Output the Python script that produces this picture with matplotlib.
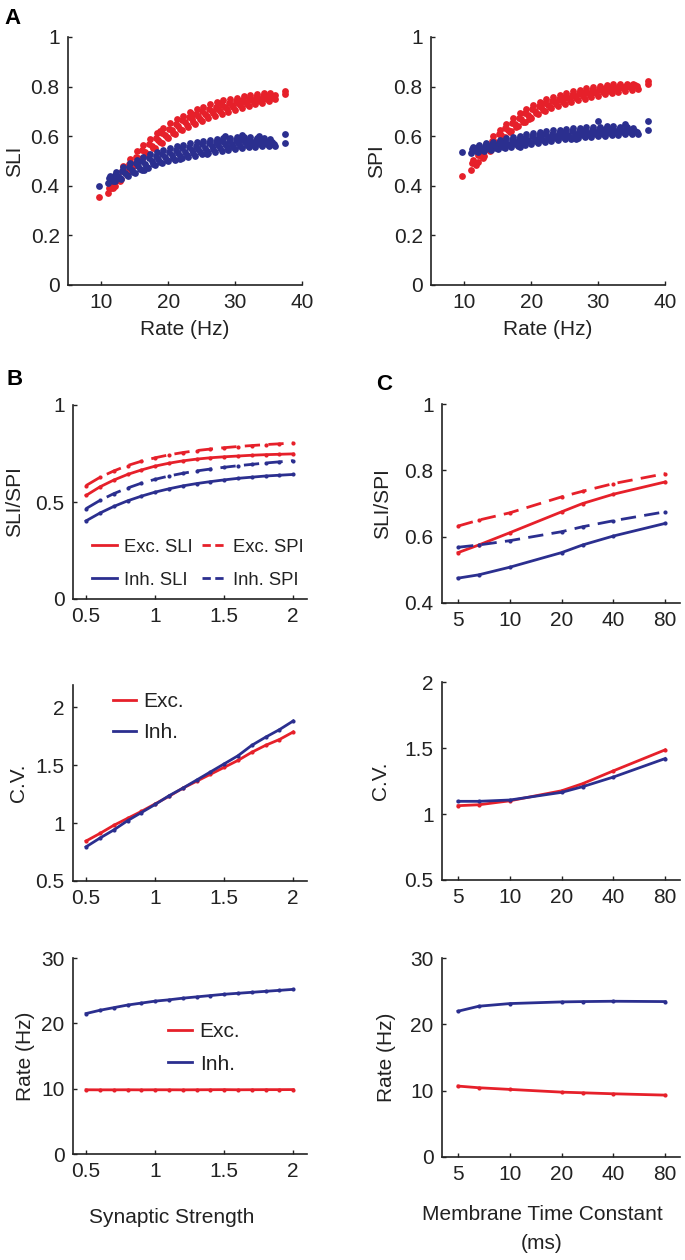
import matplotlib
matplotlib.use('Agg')
import matplotlib.pyplot as plt
from matplotlib.lines import Line2D
from matplotlib.ticker import FixedLocator, FixedFormatter, NullLocator

plt.rcParams['font.family'] = ['Liberation Sans', 'DejaVu Sans']

RED = '#E6202A'
BLUE = '#2B2F8F'

# ---------------- Panel A scatter data ----------------
x_low = [11, 12, 13, 14, 15, 16, 17, 18, 19, 20, 21, 22, 23, 24, 25, 26, 27, 28, 29, 30,
         31, 32, 33, 34, 35, 36]
x_mid = [11.5, 12.5, 13.5, 14.5, 15.5, 16.5, 17.5, 18.5, 19.5, 20.5, 21.5, 22.5, 23.5,
         24.5, 25.5, 26.5, 27.5, 28.5, 29.5, 30.5, 31.5, 32.5, 33.5, 34.5, 35.5]
x_high = [11.25, 12.25, 13.25, 14.25, 15.25, 16.25, 17.25, 18.25, 19.25, 20.25, 21.25,
          22.25, 23.25, 24.25, 25.25, 26.25, 27.25, 28.25, 29.25, 30.25, 31.25, 32.25,
          33.25, 34.25, 35.25]
x_lowmid = [11.75, 12.75, 13.75, 14.75, 15.75, 16.75, 17.75, 18.75, 19.75, 20.75, 21.75,
            22.75, 23.75, 24.75, 25.75, 26.75, 27.75, 28.75, 29.75, 30.75, 31.75, 32.75,
            33.75, 34.75, 35.75]
x_midhigh = [11.1, 12.1, 13.1, 14.1, 15.1, 16.1, 17.1, 18.1, 19.1, 20.1, 21.1, 22.1, 23.1,
             24.1, 25.1, 26.1, 27.1, 28.1, 29.1, 30.1, 31.1, 32.1, 33.1, 34.1, 35.1]

sli_exc_low = [0.372, 0.400, 0.428, 0.458, 0.482, 0.508, 0.530, 0.553, 0.574, 0.592, 0.610,
               0.624, 0.638, 0.650, 0.661, 0.672, 0.683, 0.690, 0.699, 0.706, 0.714, 0.720,
               0.728, 0.734, 0.742, 0.748]
sli_exc_lowmid = [0.390, 0.420, 0.450, 0.478, 0.503, 0.528, 0.552, 0.575, 0.596, 0.614,
                  0.631, 0.646, 0.659, 0.671, 0.682, 0.692, 0.702, 0.710, 0.717, 0.724,
                  0.731, 0.737, 0.743, 0.749, 0.755]
sli_exc_mid = [0.392, 0.425, 0.457, 0.486, 0.512, 0.537, 0.562, 0.586, 0.606, 0.624, 0.641,
               0.656, 0.669, 0.680, 0.691, 0.701, 0.710, 0.718, 0.725, 0.732, 0.739, 0.745,
               0.750, 0.755, 0.760]
sli_exc_midhigh = [0.390, 0.426, 0.458, 0.489, 0.517, 0.543, 0.568, 0.592, 0.613, 0.631,
                   0.648, 0.664, 0.677, 0.689, 0.700, 0.710, 0.719, 0.727, 0.734, 0.740,
                   0.746, 0.752, 0.757, 0.761, 0.765]
sli_exc_high = [0.405, 0.445, 0.478, 0.510, 0.540, 0.565, 0.590, 0.613, 0.633, 0.652, 0.668,
                0.683, 0.697, 0.708, 0.718, 0.728, 0.737, 0.744, 0.750, 0.756, 0.761, 0.766,
                0.770, 0.773, 0.776]
sli_exc_extra_x = [9.7, 37.5, 37.5, 35.9, 18.8, 23.6, 27.9]
sli_exc_extra_y = [0.355, 0.782, 0.772, 0.765, 0.622, 0.690, 0.735]

sli_inh_low = [0.412, 0.418, 0.428, 0.440, 0.452, 0.462, 0.472, 0.482, 0.490, 0.498, 0.505,
               0.511, 0.517, 0.522, 0.527, 0.532, 0.537, 0.541, 0.545, 0.548, 0.551, 0.555,
               0.557, 0.559, 0.560, 0.562]
sli_inh_lowmid = [0.421, 0.430, 0.442, 0.454, 0.466, 0.477, 0.487, 0.496, 0.505, 0.513,
                  0.520, 0.526, 0.532, 0.537, 0.542, 0.547, 0.551, 0.555, 0.558, 0.561,
                  0.564, 0.566, 0.568, 0.569, 0.568]
sli_inh_mid = [0.428, 0.438, 0.452, 0.465, 0.478, 0.489, 0.499, 0.508, 0.517, 0.525, 0.532,
               0.538, 0.544, 0.549, 0.554, 0.559, 0.563, 0.567, 0.570, 0.573, 0.575, 0.577,
               0.578, 0.578, 0.575]
sli_inh_midhigh = [0.432, 0.444, 0.460, 0.476, 0.490, 0.502, 0.512, 0.522, 0.530, 0.538,
                   0.545, 0.551, 0.557, 0.562, 0.567, 0.572, 0.576, 0.579, 0.582, 0.584,
                   0.585, 0.586, 0.586, 0.585, 0.582]
sli_inh_high = [0.440, 0.455, 0.475, 0.492, 0.506, 0.518, 0.528, 0.538, 0.546, 0.554, 0.560,
                0.566, 0.572, 0.577, 0.582, 0.586, 0.590, 0.592, 0.594, 0.596, 0.596, 0.595,
                0.594, 0.592, 0.590]
sli_inh_extra_x = [9.7, 37.5, 37.5, 31.0, 33.5, 28.5, 35.5, 16.4, 21.7, 25.8]
sli_inh_extra_y = [0.400, 0.610, 0.574, 0.606, 0.600, 0.602, 0.568, 0.462, 0.510, 0.528]

spi_exc_low = [0.465, 0.495, 0.522, 0.548, 0.574, 0.598, 0.620, 0.640, 0.658, 0.674, 0.689,
               0.701, 0.712, 0.722, 0.730, 0.738, 0.746, 0.752, 0.758, 0.763, 0.769, 0.774,
               0.779, 0.784, 0.788, 0.792]
spi_exc_lowmid = [0.482, 0.512, 0.540, 0.567, 0.592, 0.616, 0.638, 0.658, 0.676, 0.692,
                  0.706, 0.718, 0.728, 0.738, 0.746, 0.754, 0.762, 0.768, 0.774, 0.779,
                  0.784, 0.789, 0.794, 0.798, 0.801]
spi_exc_mid = [0.490, 0.522, 0.550, 0.578, 0.603, 0.627, 0.648, 0.668, 0.686, 0.702, 0.716,
               0.727, 0.737, 0.746, 0.754, 0.762, 0.769, 0.775, 0.780, 0.785, 0.790, 0.795,
               0.799, 0.802, 0.805]
spi_exc_midhigh = [0.490, 0.523, 0.553, 0.582, 0.608, 0.632, 0.654, 0.674, 0.692, 0.708,
                   0.721, 0.733, 0.743, 0.752, 0.760, 0.768, 0.775, 0.780, 0.785, 0.790,
                   0.794, 0.798, 0.801, 0.803, 0.805]
spi_exc_high = [0.505, 0.540, 0.570, 0.600, 0.626, 0.650, 0.672, 0.692, 0.709, 0.724, 0.737,
                0.748, 0.758, 0.766, 0.774, 0.781, 0.788, 0.793, 0.798, 0.802, 0.806, 0.809,
                0.811, 0.812, 0.812]
spi_exc_extra_x = [9.7, 37.5, 37.5, 19.6, 24.4]
spi_exc_extra_y = [0.440, 0.822, 0.812, 0.668, 0.760]

spi_inh_low = [0.532, 0.536, 0.540, 0.544, 0.548, 0.553, 0.557, 0.562, 0.566, 0.570, 0.574,
               0.578, 0.581, 0.584, 0.587, 0.590, 0.593, 0.595, 0.598, 0.600, 0.602, 0.604,
               0.606, 0.608, 0.610, 0.610]
spi_inh_lowmid = [0.540, 0.545, 0.549, 0.554, 0.558, 0.563, 0.568, 0.572, 0.577, 0.581,
                  0.585, 0.589, 0.592, 0.595, 0.598, 0.601, 0.604, 0.606, 0.608, 0.610,
                  0.612, 0.614, 0.616, 0.617, 0.617]
spi_inh_mid = [0.545, 0.550, 0.555, 0.560, 0.565, 0.570, 0.575, 0.580, 0.585, 0.589, 0.593,
               0.597, 0.600, 0.603, 0.606, 0.609, 0.612, 0.614, 0.616, 0.618, 0.620, 0.622,
               0.623, 0.624, 0.622]
spi_inh_midhigh = [0.548, 0.555, 0.561, 0.567, 0.573, 0.578, 0.584, 0.589, 0.594, 0.599,
                   0.603, 0.607, 0.610, 0.613, 0.616, 0.619, 0.622, 0.624, 0.626, 0.628,
                   0.629, 0.630, 0.630, 0.630, 0.628]
spi_inh_high = [0.556, 0.564, 0.571, 0.578, 0.585, 0.591, 0.597, 0.602, 0.607, 0.612, 0.616,
                0.620, 0.623, 0.626, 0.629, 0.632, 0.634, 0.636, 0.638, 0.639, 0.640, 0.640,
                0.639, 0.637, 0.634]
spi_inh_extra_x = [9.7, 37.5, 37.5, 30.0, 34.0, 18.3, 26.7]
spi_inh_extra_y = [0.535, 0.660, 0.625, 0.662, 0.650, 0.556, 0.588]

# ---------------- Panel B data (synaptic strength) ----------------
syn_strength = [0.5, 0.6, 0.7, 0.8, 0.9, 1.0, 1.1, 1.2, 1.3, 1.4, 1.5, 1.6, 1.7, 1.8, 1.9, 2.0]
b_exc_sli = [0.534, 0.578, 0.613, 0.642, 0.665, 0.685, 0.700, 0.712, 0.721, 0.728, 0.733,
             0.737, 0.741, 0.744, 0.746, 0.748]
b_exc_spi = [0.585, 0.627, 0.660, 0.688, 0.710, 0.728, 0.743, 0.755, 0.765, 0.773, 0.780,
             0.786, 0.791, 0.796, 0.800, 0.804]
b_inh_sli = [0.403, 0.443, 0.477, 0.506, 0.530, 0.551, 0.568, 0.583, 0.595, 0.605, 0.614,
             0.622, 0.628, 0.634, 0.638, 0.642]
b_inh_spi = [0.466, 0.508, 0.543, 0.572, 0.597, 0.617, 0.634, 0.648, 0.660, 0.670, 0.679,
             0.687, 0.694, 0.701, 0.707, 0.713]
b_exc_cv = [0.845, 0.91, 0.98, 1.04, 1.10, 1.165, 1.23, 1.30, 1.36, 1.42, 1.48, 1.54, 1.61,
            1.67, 1.72, 1.785]
b_inh_cv = [0.795, 0.87, 0.94, 1.02, 1.09, 1.16, 1.235, 1.30, 1.37, 1.44, 1.51, 1.58, 1.67,
            1.74, 1.805, 1.88]
b_exc_rate = [9.83, 9.82, 9.82, 9.83, 9.82, 9.83, 9.83, 9.82, 9.83, 9.84, 9.85, 9.83, 9.84,
              9.85, 9.85, 9.86]
b_inh_rate = [21.5, 22.0, 22.4, 22.8, 23.1, 23.4, 23.6, 23.85, 24.05, 24.25, 24.45, 24.6,
              24.75, 24.9, 25.05, 25.2]

# ---------------- Panel C data (membrane time constant, ms) ----------------
tau_m = [5, 6.6, 10, 20, 26.5, 40, 80]
c_exc_sli = [0.552, 0.575, 0.612, 0.675, 0.700, 0.728, 0.765]
c_exc_spi = [0.632, 0.650, 0.672, 0.720, 0.737, 0.760, 0.790]
c_inh_sli = [0.475, 0.485, 0.508, 0.552, 0.575, 0.602, 0.640]
c_inh_spi = [0.568, 0.575, 0.588, 0.615, 0.630, 0.648, 0.675]
c_exc_cv = [1.063, 1.070, 1.100, 1.176, 1.230, 1.327, 1.486]
c_inh_cv = [1.096, 1.096, 1.106, 1.164, 1.207, 1.280, 1.420]
c_exc_rate = [10.69, 10.44, 10.19, 9.78, 9.68, 9.53, 9.33]
c_inh_rate = [21.98, 22.73, 23.13, 23.38, 23.43, 23.48, 23.43]

# ---------------- Ticks / labels ----------------
a_xticks = [10, 20, 30, 40]
a_xticklabels = ['10', '20', '30', '40']
a_yticks = [0, 0.2, 0.4, 0.6, 0.8, 1.0]
a_yticklabels = ['0', '0.2', '0.4', '0.6', '0.8', '1']
b_xticks = [0.5, 1, 1.5, 2]
b_xticklabels = ['0.5', '1', '1.5', '2']
c_xticks = [5, 10, 20, 40, 80]
c_xticklabels = ['5', '10', '20', '40', '80']
b_top_yticks = [0, 0.5, 1]
b_top_yticklabels = ['0', '0.5', '1']
c_top_yticks = [0.4, 0.6, 0.8, 1.0]
c_top_yticklabels = ['0.4', '0.6', '0.8', '1']
cv_yticks = [0.5, 1, 1.5, 2]
cv_yticklabels = ['0.5', '1', '1.5', '2']
rate_yticks = [0, 10, 20, 30]
rate_yticklabels = ['0', '10', '20', '30']

# ---------------- Figure ----------------
W, H = 685, 1260
fig = plt.figure(figsize=(W / 100, H / 100), dpi=100)
FS = 15
TXT = '#222222'


def rect(l, r, t, b):
    return [l / W, 1 - b / H, (r - l) / W, (b - t) / H]


def style(ax, xticks, xlabels, yticks, ylabels, xlim, ylim, logx=False):
    if logx:
        ax.set_xscale('log')
    ax.set_xlim(*xlim)
    ax.set_ylim(*ylim)
    ax.xaxis.set_major_locator(FixedLocator(xticks))
    ax.xaxis.set_major_formatter(FixedFormatter(xlabels))
    ax.xaxis.set_minor_locator(NullLocator())
    ax.yaxis.set_major_locator(FixedLocator(yticks))
    ax.yaxis.set_major_formatter(FixedFormatter(ylabels))
    ax.yaxis.set_minor_locator(NullLocator())
    for s in ['top', 'right']:
        ax.spines[s].set_visible(False)
    for s in ['left', 'bottom']:
        ax.spines[s].set_linewidth(1.2)
        ax.spines[s].set_color(TXT)
    ax.tick_params(direction='in', length=3, width=1, labelsize=FS, pad=6,
                   colors=TXT, labelcolor=TXT)


def set_ylab(ax, text, xfrac):
    ax.set_ylabel(text, fontsize=FS, color=TXT)
    ax.yaxis.set_label_coords(xfrac, 0.5)


SC = dict(s=24, linewidths=0)

# ---- Panel A left (SLI) ----
axA1 = fig.add_axes(rect(68, 302, 37, 285))
for xs, ys in [(x_low, sli_exc_low), (x_lowmid, sli_exc_lowmid), (x_mid, sli_exc_mid),
               (x_midhigh, sli_exc_midhigh), (x_high, sli_exc_high),
               (sli_exc_extra_x, sli_exc_extra_y)]:
    axA1.scatter(xs, ys, color=RED, **SC)
for xs, ys in [(x_low, sli_inh_low), (x_lowmid, sli_inh_lowmid), (x_mid, sli_inh_mid),
               (x_midhigh, sli_inh_midhigh), (x_high, sli_inh_high),
               (sli_inh_extra_x, sli_inh_extra_y)]:
    axA1.scatter(xs, ys, color=BLUE, **SC)
style(axA1, a_xticks, a_xticklabels, a_yticks, a_yticklabels, (5, 40), (0, 1))
set_ylab(axA1, 'SLI', -0.187)
axA1.set_xlabel('Rate (Hz)', fontsize=FS, color=TXT)
axA1.xaxis.set_label_coords(0.5, -0.142)

# ---- Panel A right (SPI) ----
axA2 = fig.add_axes(rect(431, 665, 37, 285))
for xs, ys in [(x_low, spi_exc_low), (x_lowmid, spi_exc_lowmid), (x_mid, spi_exc_mid),
               (x_midhigh, spi_exc_midhigh), (x_high, spi_exc_high),
               (spi_exc_extra_x, spi_exc_extra_y)]:
    axA2.scatter(xs, ys, color=RED, **SC)
for xs, ys in [(x_low, spi_inh_low), (x_lowmid, spi_inh_lowmid), (x_mid, spi_inh_mid),
               (x_midhigh, spi_inh_midhigh), (x_high, spi_inh_high),
               (spi_inh_extra_x, spi_inh_extra_y)]:
    axA2.scatter(xs, ys, color=BLUE, **SC)
style(axA2, a_xticks, a_xticklabels, a_yticks, a_yticklabels, (5, 40), (0, 1))
set_ylab(axA2, 'SPI', -0.19)
axA2.set_xlabel('Rate (Hz)', fontsize=FS, color=TXT)
axA2.xaxis.set_label_coords(0.5, -0.142)

LW = 2.0
MK = dict(marker='o', ms=3, mew=0)
DASH = (5.5, 3)

# ---- Panel B top ----
axB1 = fig.add_axes(rect(73, 307, 405, 599))
axB1.plot(syn_strength, b_exc_spi, color=RED, lw=LW, dashes=DASH, **MK)
axB1.plot(syn_strength, b_exc_sli, color=RED, lw=LW, **MK)
axB1.plot(syn_strength, b_inh_spi, color=BLUE, lw=LW, dashes=DASH, **MK)
axB1.plot(syn_strength, b_inh_sli, color=BLUE, lw=LW, **MK)
style(axB1, b_xticks, b_xticklabels, b_top_yticks, b_top_yticklabels, (0.405, 2.1), (0, 1))
set_ylab(axB1, 'SLI/SPI', -0.208)
hB1 = [Line2D([], [], color=RED, lw=LW), Line2D([], [], color=BLUE, lw=LW),
       Line2D([], [], color=RED, lw=LW, dashes=(3, 1.6)),
       Line2D([], [], color=BLUE, lw=LW, dashes=(3, 1.6))]
axB1.legend(hB1, ['Exc. SLI', 'Inh. SLI', 'Exc. SPI', 'Inh. SPI'], ncol=2,
            loc='upper left', bbox_to_anchor=(0.08, 0.31), frameon=False, fontsize=13.3,
            handlelength=1.35, handletextpad=0.38, columnspacing=0.5, labelspacing=0.85,
            borderpad=0, borderaxespad=0, labelcolor=TXT)

# ---- Panel C top ----
axC1 = fig.add_axes(rect(442, 680, 404, 603))
axC1.plot(tau_m, c_exc_spi, color=RED, lw=LW, dashes=DASH, **MK)
axC1.plot(tau_m, c_exc_sli, color=RED, lw=LW, **MK)
axC1.plot(tau_m, c_inh_spi, color=BLUE, lw=LW, dashes=DASH, **MK)
axC1.plot(tau_m, c_inh_sli, color=BLUE, lw=LW, **MK)
style(axC1, c_xticks, c_xticklabels, c_top_yticks, c_top_yticklabels, (4.03, 97.6),
      (0.4, 1), logx=True)
set_ylab(axC1, 'SLI/SPI', -0.21)

# ---- Panel B middle ----
axB2 = fig.add_axes(rect(73, 307, 685, 881))
axB2.plot(syn_strength, b_exc_cv, color=RED, lw=LW, **MK)
axB2.plot(syn_strength, b_inh_cv, color=BLUE, lw=LW, **MK)
style(axB2, b_xticks, b_xticklabels, cv_yticks, cv_yticklabels, (0.405, 2.1), (0.5, 2.19))
set_ylab(axB2, 'C.V.', -0.192)
hB2 = [Line2D([], [], color=RED, lw=LW), Line2D([], [], color=BLUE, lw=LW)]
axB2.legend(hB2, ['Exc.', 'Inh.'], loc='upper left', bbox_to_anchor=(0.17, 0.965),
            frameon=False, fontsize=FS, handlelength=1.1, handletextpad=0.38,
            labelspacing=0.6, borderpad=0, borderaxespad=0, labelcolor=TXT)

# ---- Panel C middle ----
axC2 = fig.add_axes(rect(442, 680, 682, 880))
axC2.plot(tau_m, c_exc_cv, color=RED, lw=LW, **MK)
axC2.plot(tau_m, c_inh_cv, color=BLUE, lw=LW, **MK)
style(axC2, c_xticks, c_xticklabels, cv_yticks, cv_yticklabels, (4.03, 97.6), (0.5, 2),
      logx=True)
set_ylab(axC2, 'C.V.', -0.218)

# ---- Panel B bottom ----
axB3 = fig.add_axes(rect(73, 307, 958, 1154))
axB3.plot(syn_strength, b_exc_rate, color=RED, lw=LW, **MK)
axB3.plot(syn_strength, b_inh_rate, color=BLUE, lw=LW, **MK)
style(axB3, b_xticks, b_xticklabels, rate_yticks, rate_yticklabels, (0.405, 2.1), (0, 30))
set_ylab(axB3, 'Rate (Hz)', -0.163)
hB3 = [Line2D([], [], color=RED, lw=LW), Line2D([], [], color=BLUE, lw=LW)]
axB3.legend(hB3, ['Exc.', 'Inh.'], loc='upper left', bbox_to_anchor=(0.405, 0.672),
            frameon=False, fontsize=FS, handlelength=1.15, handletextpad=0.38,
            labelspacing=0.64, borderpad=0, borderaxespad=0, labelcolor=TXT)
axB3.set_xlabel('Synaptic Strength', fontsize=FS, color=TXT)
axB3.xaxis.set_label_coords(0.423, -0.275)

# ---- Panel C bottom ----
axC3 = fig.add_axes(rect(442, 680, 958, 1157))
axC3.plot(tau_m, c_exc_rate, color=RED, lw=LW, **MK)
axC3.plot(tau_m, c_inh_rate, color=BLUE, lw=LW, **MK)
style(axC3, c_xticks, c_xticklabels, rate_yticks, rate_yticklabels, (4.03, 97.6), (0, 30),
      logx=True)
set_ylab(axC3, 'Rate (Hz)', -0.193)
axC3.set_xlabel('Membrane Time Constant\n(ms)', fontsize=FS, color=TXT,
                linespacing=1.65)
axC3.xaxis.set_label_coords(0.42, -0.24)

# ---- Panel letters ----
for letter, px, py in [('A', 4, 8), ('B', 6, 369), ('C', 376, 374)]:
    fig.text(px / W, 1 - py / H, letter, fontsize=16, fontweight='bold',
             ha='left', va='top', color='black')

fig.savefig('out.png', dpi=100)
